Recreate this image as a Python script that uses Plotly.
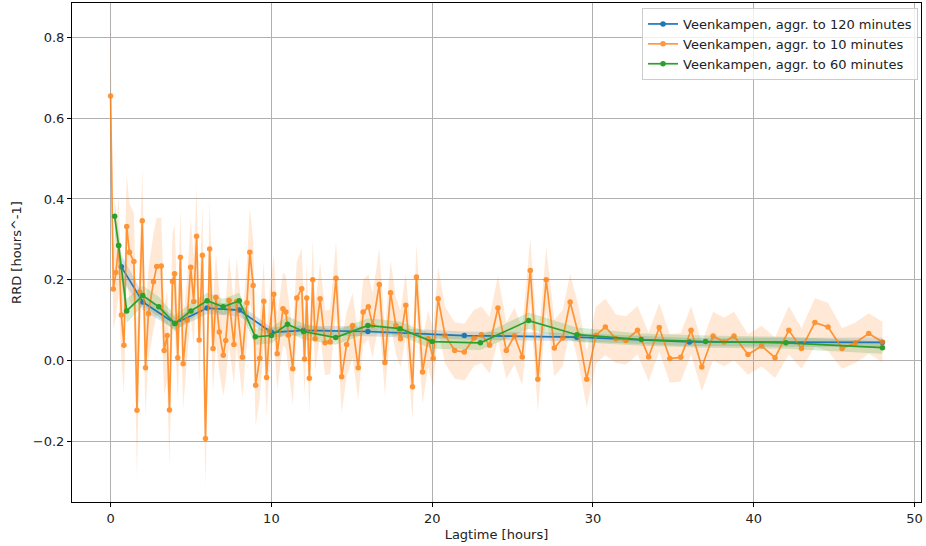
import plotly.graph_objects as go

# ---- data ----
blue_x = [0.67, 2, 4, 6, 8, 10, 12, 16, 22, 29, 36, 48]
blue_y = [0.232, 0.145, 0.092, 0.130, 0.125, 0.070, 0.075, 0.072, 0.062, 0.058, 0.046, 0.045]
blue_err = [0.03, 0.02, 0.015, 0.015, 0.015, 0.012, 0.012, 0.012, 0.01, 0.01, 0.01, 0.012]

orange_x = [0.0, 0.17, 0.33, 0.5, 0.67, 0.83, 1.0, 1.17, 1.45, 1.64, 1.82, 1.97,
            2.17, 2.35, 2.67, 2.87, 3.15, 3.33, 3.52, 3.66, 3.85, 3.98, 4.18, 4.34,
            4.51, 4.76, 4.98, 5.17, 5.35, 5.51, 5.71, 5.9, 6.16, 6.37, 6.55, 6.76,
            7.01, 7.16, 7.37, 7.67, 7.84, 8.2, 8.48, 8.66, 8.87, 9.02, 9.28, 9.53,
            9.7, 9.88, 10.15, 10.36, 10.72, 10.9, 11.06, 11.33, 11.58, 11.89, 12.06,
            12.2, 12.36, 12.57, 12.72, 13.03, 13.34, 13.65, 14.02, 14.37, 14.68,
            15.05, 15.4, 15.71, 16.03, 16.3, 16.71, 17.06, 17.41, 17.74, 18.03,
            18.36, 18.78, 19.02, 19.4, 19.75, 20.06, 20.37, 20.8, 21.4, 22.0, 22.6,
            23.06, 23.57, 24.09, 24.61, 25.12, 25.6, 26.1, 26.57, 27.09, 27.6,
            28.12, 28.58, 29.11, 29.61, 30.19, 30.77, 31.43, 32.05, 32.77, 33.46,
            34.12, 34.78, 35.46, 36.1, 36.77, 37.47, 38.15, 38.77, 39.64, 40.49,
            41.32, 42.18, 42.97, 43.8, 44.62, 45.49, 46.32, 47.15, 48.0]
orange_y = [0.655, 0.177, 0.218, 0.285, 0.113, 0.038, 0.332, 0.268, 0.245, -0.123, 0.170, 0.346,
            -0.018, 0.116, 0.195, 0.233, 0.234, 0.025, 0.062, -0.122, 0.196, 0.215, 0.007, 0.256,
            -0.008, 0.100, 0.231, 0.146, 0.308, 0.051, 0.261, -0.193, 0.276, 0.030, 0.157, 0.071,
            0.013, 0.050, 0.149, 0.040, 0.146, 0.008, 0.143, 0.268, 0.186, -0.061, 0.006, 0.147,
            -0.042, 0.073, 0.164, 0.017, 0.128, 0.120, 0.063, -0.020, 0.155, 0.178, 0.004,
            0.155, -0.044, 0.200, 0.054, 0.153, 0.044, 0.046, 0.204, -0.040, 0.040,
            0.087, -0.018, 0.120, 0.133, 0.087, 0.188, -0.005, 0.168, 0.087, 0.054,
            0.137, -0.065, 0.207, -0.028, 0.054, 0.005, 0.153, 0.063, 0.025, 0.021, 0.056,
            0.064, 0.038, 0.130, 0.025, 0.061, 0.009, 0.223, -0.046, 0.200, 0.031,
            0.056, 0.145, 0.063, -0.046, 0.063, 0.083, 0.054, 0.050, 0.075, 0.009,
            0.082, 0.005, 0.008, 0.075, -0.016, 0.061, 0.046, 0.061, 0.015, 0.036,
            0.007, 0.075, 0.030, 0.094, 0.083, 0.030, 0.044, 0.067, 0.046]
orange_err = [0.17, 0.10, 0.11, 0.12, 0.11, 0.12, 0.13, 0.12, 0.12, 0.17, 0.11, 0.13,
              0.12, 0.11, 0.12, 0.12, 0.12, 0.11, 0.11, 0.14, 0.12, 0.12, 0.11, 0.12,
              0.11, 0.10, 0.12, 0.11, 0.12, 0.11, 0.12, 0.12, 0.12, 0.11, 0.11, 0.10,
              0.10, 0.10, 0.11, 0.10, 0.11, 0.10, 0.10, 0.11, 0.11, 0.10, 0.10, 0.10,
              0.10, 0.09, 0.10, 0.09, 0.09, 0.09, 0.09, 0.09, 0.09, 0.10, 0.09,
              0.09, 0.09, 0.10, 0.08, 0.09, 0.08, 0.08, 0.09, 0.09, 0.08,
              0.08, 0.08, 0.08, 0.08, 0.08, 0.09, 0.08, 0.08, 0.07, 0.07,
              0.08, 0.08, 0.08, 0.08, 0.07, 0.07, 0.08, 0.07, 0.07, 0.07, 0.07,
              0.07, 0.07, 0.08, 0.07, 0.07, 0.07, 0.08, 0.08, 0.08, 0.07,
              0.07, 0.07, 0.07, 0.07, 0.07, 0.07, 0.06, 0.06, 0.06, 0.06,
              0.06, 0.06, 0.06, 0.06, 0.06, 0.06, 0.06, 0.06, 0.05, 0.05,
              0.05, 0.06, 0.05, 0.06, 0.06, 0.05, 0.05, 0.05, 0.05]

green_x = [0.25, 0.5, 1, 2, 3, 4, 5, 6, 7, 8, 9, 10, 11, 12, 14, 16, 18, 20,
           23, 26, 29, 33, 37, 42, 48]
green_y = [0.357, 0.285, 0.123, 0.161, 0.133, 0.092, 0.123, 0.148, 0.133, 0.148,
           0.059, 0.062, 0.090, 0.072, 0.057, 0.087, 0.079, 0.047,
           0.044, 0.099, 0.064, 0.052, 0.047, 0.044, 0.032]
green_err = [0.04, 0.035, 0.03, 0.025, 0.025, 0.02, 0.02, 0.02, 0.02, 0.02,
             0.02, 0.02, 0.02, 0.02, 0.018, 0.018, 0.018, 0.018,
             0.018, 0.02, 0.018, 0.015, 0.015, 0.015, 0.015]

x_ticks = [0, 10, 20, 30, 40, 50]
y_ticks = [-0.2, 0.0, 0.2, 0.4, 0.6, 0.8]

series = [
    ("Veenkampen, aggr. to 120 minutes", blue_x, blue_y, blue_err, "#1f77b4", "rgba(31,119,180,0.2)", 1.0),
    ("Veenkampen, aggr. to 10 minutes", orange_x, orange_y, orange_err, "#ff7f0e", "rgba(255,127,14,0.17)", 0.8),
    ("Veenkampen, aggr. to 60 minutes", green_x, green_y, green_err, "#2ca02c", "rgba(44,160,44,0.2)", 1.0),
]

fig = go.Figure()

# error bands first (below all lines)
for name, xs, ys, es, col, fillcol, op in series:
    upper = [y + e for y, e in zip(ys, es)]
    lower = [y - e for y, e in zip(ys, es)]
    fig.add_trace(go.Scatter(x=xs, y=upper, mode="lines", line=dict(width=0),
                             showlegend=False, hoverinfo="skip"))
    fig.add_trace(go.Scatter(x=xs, y=lower, mode="lines", line=dict(width=0),
                             fill="tonexty", fillcolor=fillcol,
                             showlegend=False, hoverinfo="skip"))

for name, xs, ys, es, col, fillcol, op in series:
    fig.add_trace(go.Scatter(x=xs, y=ys, mode="lines+markers", name=name,
                             opacity=op,
                             line=dict(color=col, width=1.7),
                             marker=dict(color=col, size=5.5)))

font_common = dict(family="DejaVu Sans", size=13, color="#222")

axis_common = dict(
    showgrid=True, gridcolor="#b0b0b0", gridwidth=0.8,
    showline=True, linecolor="black", linewidth=1, mirror=True,
    ticks="outside", ticklen=4, tickcolor="black", tickwidth=1,
    zeroline=False,
    tickfont=font_common,
)

fig.update_xaxes(range=[-2.4, 50.4], tickvals=x_ticks,
                 title=dict(text="Lagtime [hours]", font=font_common, standoff=5),
                 **axis_common)
fig.update_yaxes(range=[-0.35, 0.885], tickvals=y_ticks, tickformat=".1f",
                 title=dict(text="RRD [hours^-1]", font=font_common, standoff=8),
                 **axis_common)

fig.update_layout(
    width=926, height=546,
    margin=dict(l=72, r=5, t=3, b=44),
    plot_bgcolor="white", paper_bgcolor="white",
    font=font_common,
    legend=dict(x=0.9965, y=0.99, xanchor="right", yanchor="top",
                traceorder="normal",
                bgcolor="rgba(255,255,255,0.8)", bordercolor="#cccccc", borderwidth=1,
                font=font_common),
    showlegend=True,
)

fig.write_html("out.html")
